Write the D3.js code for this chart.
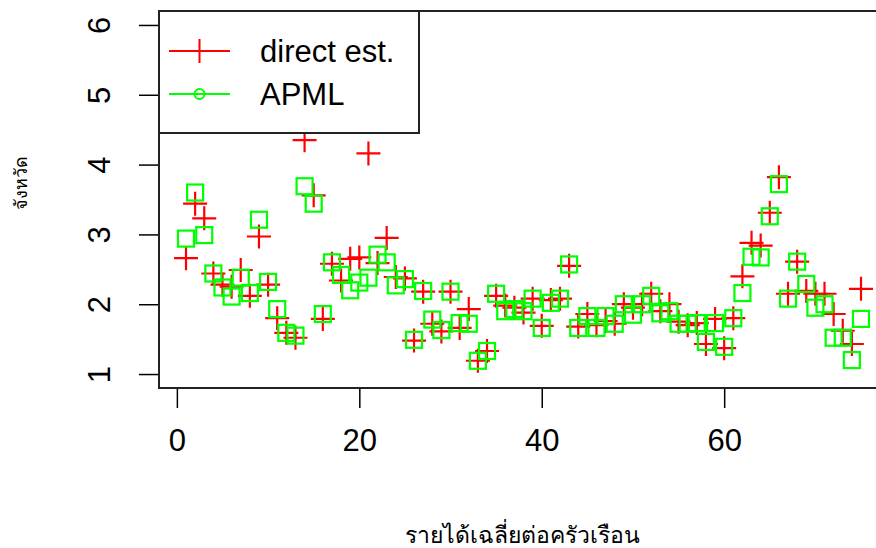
<!DOCTYPE html>
<html>
<head>
<meta charset="utf-8">
<script src="https://cdn.jsdelivr.net/npm/d3@7/dist/d3.min.js"></script>
<style>
  html, body { margin: 0; padding: 0; background: #fff; }
  svg { display: block; }
  text { font-family: "Liberation Sans", Arial, sans-serif; fill: #000; }
</style>
</head>
<body>
<svg id="chart" width="876" height="548"></svg>
<script>
// Province-level estimates, one per province index 1..75
const directEst = [
  2.66, 3.44, 3.23, 2.44, 2.28, 2.25, 2.49, 2.12, 2.97, 2.28,
  1.80, 1.59, 1.52, 4.35, 3.56, 1.79, 2.58, 2.34, 2.65, 2.67,
  4.16, 2.59, 2.95, 2.39, 2.37, 1.48, 2.18, 1.72, 1.61, 2.18,
  1.66, 1.93, 1.19, 1.33, 2.12, 1.98, 1.95, 1.88, 2.08, 1.69,
  2.06, 2.08, 2.55, 1.68, 1.86, 1.70, 1.76, 1.72, 2.00, 1.95,
  2.00, 2.15, 1.90, 2.00, 1.75, 1.70, 1.73, 1.43, 1.79, 1.37,
  1.80, 2.40, 2.88, 2.84, 3.31, 3.82, 2.15, 2.61, 2.19, 2.15,
  2.15, 1.86, 1.62, 1.43, 2.22
];
const apml = [
  2.94, 3.60, 2.99, 2.44, 2.24, 2.11, 2.38, 2.16, 3.21, 2.32,
  1.93, 1.59, 1.55, 3.69, 3.44, 1.86, 2.60, 2.42, 2.20, 2.31,
  2.38, 2.71, 2.60, 2.27, 2.36, 1.49, 2.19, 1.78, 1.63, 2.18,
  1.73, 1.72, 1.19, 1.33, 2.15, 1.90, 1.93, 1.90, 2.08, 1.66,
  2.02, 2.08, 2.57, 1.66, 1.83, 1.66, 1.83, 1.72, 2.00, 1.85,
  2.00, 2.12, 1.87, 1.90, 1.72, 1.72, 1.73, 1.46, 1.73, 1.39,
  1.80, 2.16, 2.68, 2.67, 3.26, 3.72, 2.08, 2.61, 2.29, 1.95,
  2.00, 1.52, 1.52, 1.20, 1.79
];
const xTicks = [0, 20, 40, 60];
const yTicks = [1, 2, 3, 4, 5, 6];
const seriesNames = ["direct est.", "APML"];
const seriesColors = ["#ff0000", "#00ff00"];
const xTitle = "รายได้เฉลี่ยต่อครัวเรือน";
const yTitle = "จังหวัด";

const svg = d3.select("#chart");
const n = directEst.length;

// Plot region with 4% padding on each side of the data range
const xPad = (n - 1) * 0.04;
const x = d3.scaleLinear().domain([1 - xPad, n + xPad]).range([159, 888]);
const y = d3.scaleLinear().domain([1 - 0.2, 6 + 0.2]).range([388, 11]);

const rows = directEst.map((d, i) => ({ idx: i + 1, direct: d, apml: apml[i] }));

// Axes
const xAxis = d3.axisBottom(x).tickValues(xTicks).tickSize(20).tickPadding(21).tickFormat(d3.format("d"));
const gx = svg.append("g").attr("transform", "translate(0,388)").call(xAxis);
gx.select(".domain").attr("d", `M${x(0)},0H${x(60)}`).attr("stroke", "#000").attr("stroke-width", 1.5);
gx.selectAll(".tick line").attr("stroke", "#000").attr("stroke-width", 1.5);
gx.selectAll(".tick text").attr("font-size", 31).attr("font-family", "Liberation Sans, Arial, sans-serif").attr("fill", "#000");

const yAxis = d3.axisLeft(y).tickValues(yTicks).tickSize(20).tickFormat(d3.format("d"));
const gy = svg.append("g").attr("transform", "translate(159,0)").call(yAxis);
gy.select(".domain").attr("d", `M0,${y(1)}V${y(6)}`).attr("stroke", "#000").attr("stroke-width", 1.5);
gy.selectAll(".tick line").attr("stroke", "#000").attr("stroke-width", 1.5);
gy.selectAll(".tick text")
  .attr("font-size", 31)
  .attr("font-family", "Liberation Sans, Arial, sans-serif")
  .attr("fill", "#000")
  .attr("x", 0).attr("dy", null).attr("text-anchor", "middle")
  .attr("transform", "translate(-60,0) rotate(-90)")
  .attr("y", 11);

// Plot frame
svg.append("rect")
  .attr("x", x.range()[0]).attr("y", y.range()[1])
  .attr("width", x.range()[1] - x.range()[0]).attr("height", y.range()[0] - y.range()[1])
  .attr("fill", "none").attr("stroke", "#222").attr("stroke-width", 2);

// Direct estimates: plus signs
const arm = 12;
const plusPath = `M${-arm},0H${arm}M0,${-arm}V${arm}`;
svg.append("g").selectAll("path").data(rows).join("path")
  .attr("transform", d => `translate(${x(d.idx)},${y(d.direct)})`)
  .attr("d", plusPath)
  .attr("fill", "none").attr("stroke", seriesColors[0]).attr("stroke-width", 2.2);

// APML estimates: open squares
const half = 8;
svg.append("g").selectAll("rect").data(rows).join("rect")
  .attr("x", d => x(d.idx) - half).attr("y", d => y(d.apml) - half)
  .attr("width", half * 2).attr("height", half * 2)
  .attr("fill", "none").attr("stroke", seriesColors[1]).attr("stroke-width", 2.2);

// Legend
const lg = svg.append("g");
lg.append("rect").attr("x", 159).attr("y", 11).attr("width", 260).attr("height", 122)
  .attr("fill", "#fff").attr("stroke", "#222").attr("stroke-width", 2);
const items = [
  { name: seriesNames[0], color: seriesColors[0], cy: 51, mark: "plus" },
  { name: seriesNames[1], color: seriesColors[1], cy: 94, mark: "circle" }
];
items.forEach(it => {
  lg.append("line").attr("x1", 169).attr("x2", 230).attr("y1", it.cy).attr("y2", it.cy)
    .attr("stroke", it.color).attr("stroke-width", 2);
  if (it.mark === "plus") {
    lg.append("path").attr("transform", `translate(199.5,${it.cy})`).attr("d", plusPath)
      .attr("fill", "none").attr("stroke", it.color).attr("stroke-width", 2);
  } else {
    lg.append("circle").attr("cx", 199.5).attr("cy", it.cy).attr("r", 5)
      .attr("fill", "none").attr("stroke", it.color).attr("stroke-width", 2);
  }
  lg.append("text").attr("x", 260).attr("y", it.cy + 11).attr("font-size", 31).text(it.name);
});

// Axis titles
svg.append("text").attr("x", 522).attr("y", 543).attr("text-anchor", "middle")
  .attr("font-size", 23).text(xTitle);
svg.append("text").attr("transform", "translate(27,183) rotate(-90)").attr("text-anchor", "middle")
  .attr("font-size", 18).text(yTitle);
</script>
</body>
</html>
